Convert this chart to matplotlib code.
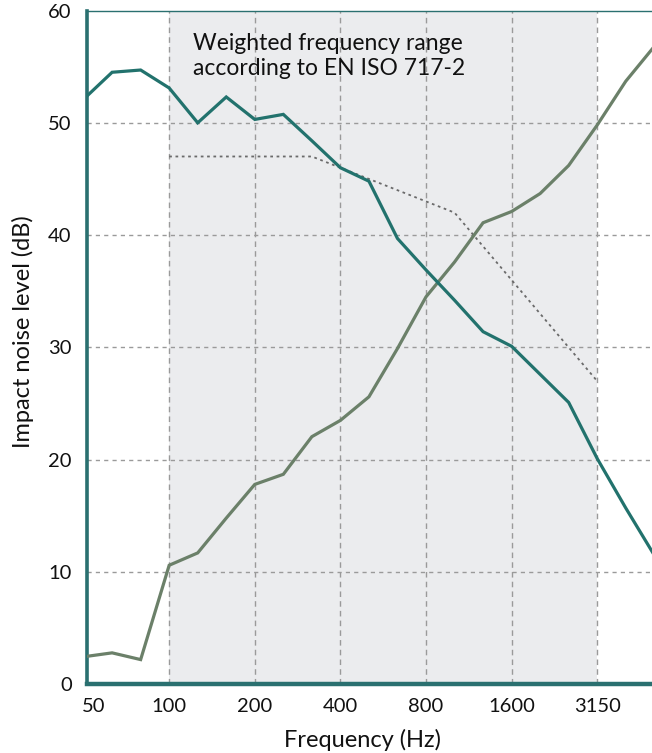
import numpy as np
import matplotlib.pyplot as plt

# third-octave bands (Hz)
bands = [50, 63, 80, 100, 125, 160, 200, 250, 315, 400, 500, 630, 800,
         1000, 1250, 1600, 2000, 2500, 3150, 4000, 5000]
tick_bands = [50, 100, 200, 400, 800, 1600, 3150]

# measured impact noise level (dB)
level_teal = [52.1, 54.5, 54.7, 53.1, 50.0, 52.3, 50.3, 50.75, 48.4, 46.0,
              44.8, 39.7, 36.9, 34.2, 31.4, 30.1, 27.6, 25.1, 20.1, 15.7, 11.5]
level_green = [2.45, 2.8, 2.2, 10.6, 11.7, 14.8, 17.8, 18.7, 22.05, 23.5,
               25.6, 29.9, 34.5, 37.6, 41.1, 42.1, 43.7, 46.2, 49.8, 53.7, 56.8]

# shifted reference curve EN ISO 717-2 (100 .. 3150 Hz)
ref_bands = [100, 125, 160, 200, 250, 315, 400, 500, 630, 800, 1000,
             1250, 1600, 2000, 2500, 3150]
ref_curve = [47, 47, 47, 47, 47, 47, 46, 45, 44, 43, 42, 39, 36, 33, 30, 27]

TEAL = '#22726d'
GREEN = '#6b8069'
SPINE = '#2a7070'
SHADE = '#ebecee'
GRID = '#9a9a9a'

plt.rcParams['font.family'] = ['Lato', 'DejaVu Sans']

idx = {b: i for i, b in enumerate(bands)}
x = np.arange(len(bands))

fig = plt.figure(figsize=(6.52, 7.53), dpi=100)
ax = fig.add_axes([87 / 652, 1 - 684.3 / 753, 1 - 87 / 652, (684.3 - 10.5) / 753])

lo, hi = 0.12, 19.92
ax.set_xlim(lo, hi)
ax.set_ylim(0, 60)

ax.axvspan(idx[100], idx[3150], color=SHADE, zorder=0, lw=0)

for b in tick_bands[1:]:
    ax.axvline(idx[b], color=GRID, lw=1.0, ls=(0, (4, 3)), zorder=1)
for v in range(10, 60, 10):
    ax.axhline(v, color=GRID, lw=1.0, ls=(0, (3, 3)), zorder=1)

ax.plot([idx[b] for b in ref_bands], ref_curve, color='#6a6a6a', lw=1.3,
        ls=(0, (1.5, 2.0)), zorder=2)
ax.plot(x, level_green, color=GREEN, lw=2.3, zorder=3, solid_joinstyle='miter')
ax.plot(x, level_teal, color=TEAL, lw=2.3, zorder=4, solid_joinstyle='miter')

tick_pos = [max(idx[b], lo + 0.25) for b in tick_bands]
ax.set_xticks(tick_pos)
ax.set_xticklabels([str(b) for b in tick_bands])
ax.set_yticks(range(0, 61, 10))
ax.tick_params(axis='both', length=0, labelsize=14.5, colors='#111111')
ax.tick_params(axis='x', pad=10)
ax.tick_params(axis='y', pad=11)

for side in ['left', 'bottom', 'top']:
    ax.spines[side].set_color(SPINE)
ax.spines['left'].set_linewidth(2.6)
ax.spines['bottom'].set_linewidth(3.2)
ax.spines['top'].set_linewidth(1.0)
ax.spines['right'].set_visible(False)

ax.set_xlabel('Frequency (Hz)', fontsize=17, color='#111111')
ax.set_ylabel('Impact noise level (dB)', fontsize=17, color='#111111')
ax.xaxis.set_label_coords(0.488, -0.066)
ax.yaxis.set_label_coords(-0.094, 0.524)

ax.text(0.1876, 0.966, 'Weighted frequency range\naccording to EN ISO 717-2',
        transform=ax.transAxes, ha='left', va='top', fontsize=16.5,
        color='#111111', linespacing=1.2)

plt.savefig('out.png', dpi=100)
